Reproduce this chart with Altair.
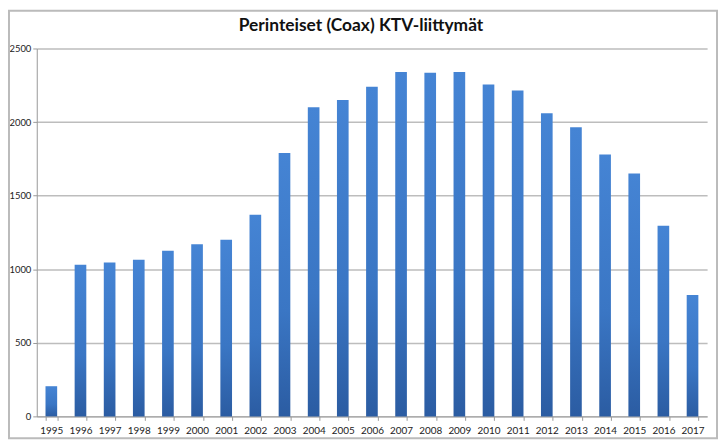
import altair as alt
import pandas as pd

years = [str(y) for y in range(1995, 2018)]
values = [205, 1030, 1045, 1065, 1125, 1170, 1200, 1370, 1790, 2100, 2150, 2240,
          2340, 2335, 2340, 2255, 2215, 2060, 1965, 1780, 1650, 1295, 825]
title_text = ["Perinteiset (Coax) KTV-liittymät"]

df = pd.DataFrame({"year": years, "value": values})

W, H = 676, 371

bars = alt.Chart(df).mark_bar(
    fill=alt.Gradient(
        gradient="linear",
        stops=[alt.GradientStop(color="#4584d4", offset=0),
               alt.GradientStop(color="#3a76c4", offset=0.6),
               alt.GradientStop(color="#2b5ca2", offset=1)],
        x1=0, x2=0, y1=0, y2=1,
    )
).encode(
    x=alt.X("year:O", title=None,
            scale=alt.Scale(paddingInner=0.6, paddingOuter=0.3),
            axis=alt.Axis(labelAngle=0, tickBand="extent", labelFont="Lato",
                          labelFontSize=10, labelColor="#222", labelPadding=5,
                          domainColor="#999", tickColor="#999", tickSize=4)),
    y=alt.Y("value:Q", title=None,
            scale=alt.Scale(domain=[0, 2500]),
            axis=alt.Axis(values=[0, 500, 1000, 1500, 2000, 2500], format="d",
                          labelFont="Lato",
                          labelFontSize=9.5, labelColor="#222", gridColor="#bdbdbd",
                          gridWidth=1.5, domainColor="#999", tickColor="#999",
                          tickSize=4, labelPadding=2)),
)

border = alt.Chart(pd.DataFrame({"a": [0]})).mark_rect(
    fillOpacity=0, stroke="#bbbbbb", strokeWidth=2
).encode(
    x=alt.value(-28), x2=alt.value(686), y=alt.value(-38), y2=alt.value(393)
)

title = alt.Chart(pd.DataFrame({"t": title_text})).mark_text(
    font="Lato", fontSize=17.5, fontWeight="bold", color="#111",
    align="center", baseline="alphabetic"
).encode(
    text="t:N", x=alt.value(327), y=alt.value(-18)
)

chart = alt.layer(border, bars, title).properties(
    width=W, height=H,
    autosize=alt.AutoSizeParams(type="none"),
    padding={"left": 29, "top": 39, "right": 12, "bottom": 23},
).configure_view(stroke=None)

chart.save("out.html", embed_options={"renderer": "svg", "actions": False})
